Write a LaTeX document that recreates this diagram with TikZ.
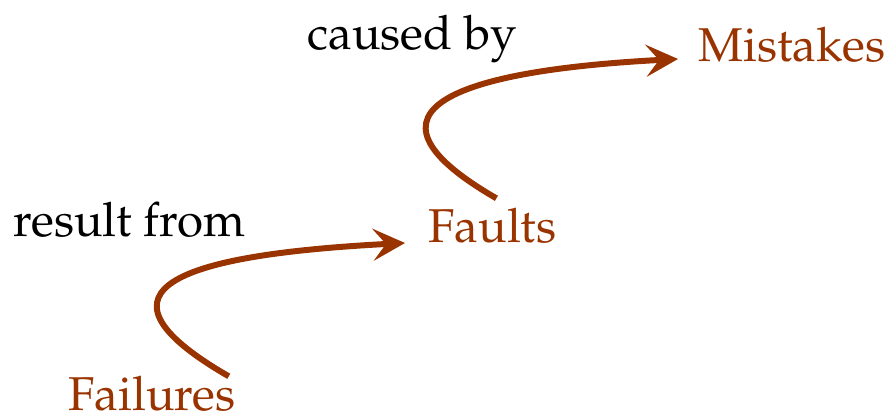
\documentclass[tikz,border=0pt]{standalone}
\usepackage[T1]{fontenc}
\usepackage{mathpazo}
\usepackage{tikz}
\usetikzlibrary{arrows.meta}
\definecolor{rust}{RGB}{153,51,0}

\begin{document}
\begin{tikzpicture}[
  term/.style={anchor=base west,inner sep=0,text=rust,font=\fontsize{27}{31}\selectfont},
  phrase/.style={anchor=base west,inner sep=0,font=\fontsize{27}{31}\selectfont},
  link/.style={draw=rust,line width=3.4pt,-{Stealth[length=0.64cm,width=0.64cm,inset=0.26cm]}}]
  \useasboundingbox (0,0) rectangle (17.78,8.38);
  \node[term] (failures) at (1.36,0.16) {Failures};
  \node[term] (faults) at (8.56,3.52) {Faults};
  \node[term] (mistakes) at (13.96,7.14) {Mistakes};
  \node[phrase] (resultfrom) at (0.26,3.65) {result from};
  \node[phrase] (causedby) at (6.14,7.38) {caused by};
  % failures -> faults -> mistakes
  \draw[link] ([xshift=-0.14cm]failures.north east) .. controls +(150:3.6) and +(183:4.3) .. ([xshift=-0.46cm]faults.base west);
  \draw[link] ([shift={(0.08,0.2)}]faults.north) .. controls +(150:3.6) and +(183:4.3) .. ([shift={(-0.4,0.06)}]mistakes.base west);
\end{tikzpicture}
\end{document}
